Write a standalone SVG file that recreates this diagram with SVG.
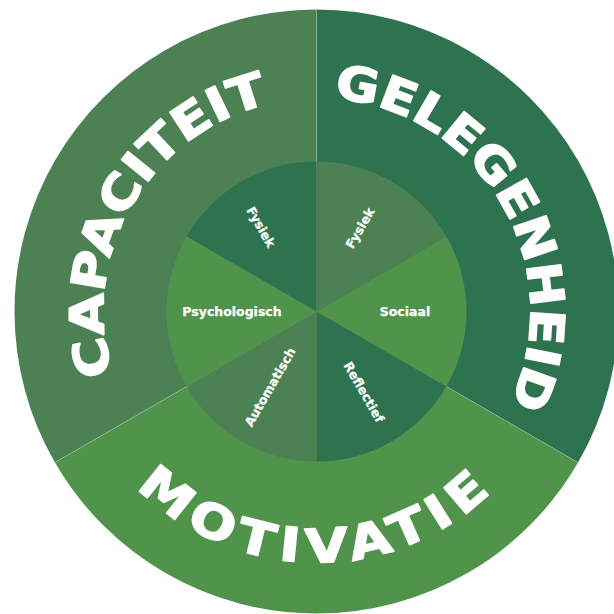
<svg xmlns="http://www.w3.org/2000/svg" width="614" height="614" viewBox="0 0 614 614">
<style>
.dark{fill:#2e734f}
.med{fill:#4c8253}
.light{fill:#50934b}
.big{font-family:"DejaVu Sans","Liberation Sans",sans-serif;font-weight:bold;fill:#ffffff;stroke:#ffffff;stroke-width:1.6;stroke-linejoin:round}
.lbl{font-family:"DejaVu Sans","Liberation Sans",sans-serif;font-weight:bold;font-size:12.5px;fill:#ffffff;stroke:#ffffff;stroke-width:0.25;text-anchor:middle;dominant-baseline:central}
.div{stroke:#ffffff;stroke-opacity:0.22;stroke-width:1;fill:none}
</style>
<defs>
<path id="pCap" d="M112.8,373.8 A213,213 0 0 1 272.2,103.2"/>
<path id="pGel" d="M333.7,98.2 A214,214 0 0 1 508.8,405.3"/>
<path id="pMot" d="M136.9,486.8 A251,251 0 0 0 498.3,484.6"/>
</defs>
<rect width="614" height="614" fill="#ffffff"/>
<g id="capaciteit">
<path class="med" d="M316.5,311.5 L54.95,462.5 A302,302 0 0 1 316.5,9.5 Z"/>
<text class="big" font-size="47"><textPath href="#pCap" textLength="350" lengthAdjust="spacingAndGlyphs">CAPACITEIT</textPath></text>
</g>
<g id="gelegenheid">
<path class="dark" d="M316.5,311.5 L316.5,9.5 A302,302 0 0 1 578.05,462.5 Z"/>
<text class="big" font-size="47"><textPath href="#pGel" textLength="414" lengthAdjust="spacingAndGlyphs">GELEGENHEID</textPath></text>
</g>
<g id="motivatie">
<path class="light" d="M316.5,311.5 L578.05,462.5 A302,302 0 0 1 54.95,462.5 Z"/>
<text class="big" font-size="47" letter-spacing="6.3"><textPath href="#pMot" textLength="400" lengthAdjust="spacingAndGlyphs">MOTIVATIE</textPath></text>
</g>
<g id="dividers">
<line class="div" x1="316.5" y1="161.5" x2="316.5" y2="9.5"/>
<line class="div" x1="446.4" y1="386.5" x2="578.05" y2="462.5"/>
<line class="div" x1="186.6" y1="386.5" x2="54.95" y2="462.5"/>
</g>
<g id="cap-fysiek">
<path class="dark" d="M316.5,311.5 L186.6,236.5 A150,150 0 0 1 316.5,161.5 Z"/>
<text class="lbl" transform="translate(261,227) rotate(60)">Fysiek</text>
</g>
<g id="gel-fysiek">
<path class="med" d="M316.5,311.5 L316.5,161.5 A150,150 0 0 1 446.4,236.5 Z"/>
<text class="lbl" transform="translate(360,228) rotate(-60)">Fysiek</text>
</g>
<g id="gel-sociaal">
<path class="light" d="M316.5,311.5 L446.4,236.5 A150,150 0 0 1 446.4,386.5 Z"/>
<text class="lbl" x="405" y="311.5">Sociaal</text>
</g>
<g id="mot-reflectief">
<path class="dark" d="M316.5,311.5 L446.4,386.5 A150,150 0 0 1 316.5,461.5 Z"/>
<text class="lbl" transform="translate(364,392) rotate(60)">Reflectief</text>
</g>
<g id="mot-automatisch">
<path class="med" d="M316.5,311.5 L316.5,461.5 A150,150 0 0 1 186.6,386.5 Z"/>
<text class="lbl" transform="translate(270,387) rotate(-60)">Automatisch</text>
</g>
<g id="cap-psychologisch">
<path class="light" d="M316.5,311.5 L186.6,386.5 A150,150 0 0 1 186.6,236.5 Z"/>
<text class="lbl" x="232" y="311.5">Psychologisch</text>
</g>
</svg>
